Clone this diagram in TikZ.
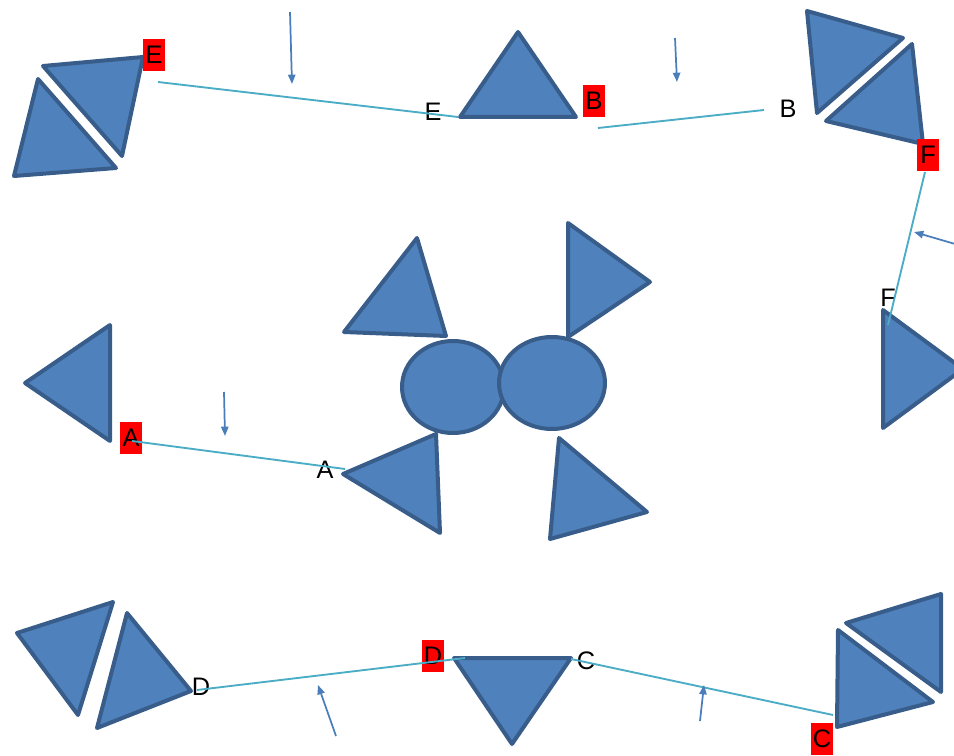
\documentclass[tikz,border=0pt]{standalone}
\usepackage{fontspec}
\setmainfont{Liberation Sans}
\usetikzlibrary{arrows.meta}
\definecolor{triFill}{HTML}{4F81BD}
\definecolor{triLine}{HTML}{385D8A}
\definecolor{linkCol}{HTML}{4BACC6}
\definecolor{arrCol}{HTML}{4A7EBB}

\begin{document}
\begin{tikzpicture}[x=0.75pt, y=-0.75pt,
	tri/.style={fill=triFill, draw=triLine, line width=3pt, line join=round},
	link/.style={draw=linkCol, line width=1.4pt},
	push/.style={draw=arrCol, line width=1.3pt, -{Triangle[length=7pt,width=5.5pt]}},
	lbl/.style={inner sep=0pt, font=\fontsize{19}{19}\selectfont},
	redlbl/.style={lbl, fill=red, minimum width=16.5pt, minimum height=24.5pt}]
	\useasboundingbox (0,0) rectangle (954,756);
	\clip (0,0) rectangle (954,756);
	% Triangles
	\draw[tri] (43,66) -- (143,57) -- (122,156) -- cycle;
	\draw[tri] (38,79) -- (116,168) -- (14,176) -- cycle;
	\draw[tri] (518,32) -- (460,117) -- (576,117) -- cycle;
	\draw[tri] (807,11) -- (903,38) -- (817,113) -- cycle;
	\draw[tri] (912,44) -- (923,144) -- (826,121) -- cycle;
	\draw[tri] (883,310) -- (963,369) -- (883,428) -- cycle;
	\draw[tri] (25,383) -- (110,325) -- (110,441) -- cycle;
	\draw[tri] (417,238) -- (446,336) -- (344,332) -- cycle;
	\draw[tri] (568,223) -- (650,282) -- (568,337) -- cycle;
	\draw[tri] (343,474) -- (436,434) -- (440,533) -- cycle;
	\draw[tri] (559,438) -- (647,512) -- (550,539) -- cycle;
	\draw[tri] (17,633) -- (113,602) -- (78,715) -- cycle;
	\draw[tri] (127,613) -- (191,691) -- (97,728) -- cycle;
	\draw[tri] (454,658) -- (571,658) -- (512,744) -- cycle;
	\draw[tri] (838,630) -- (933,702) -- (837,727) -- cycle;
	\draw[tri] (846,623) -- (941,594) -- (941,692) -- cycle;
	% Circles
	\draw[tri] (453,387) ellipse [x radius=51, y radius=46];
	\draw[tri] (552,383) ellipse [x radius=53, y radius=46];
	% Labels
	\node[redlbl] (rE) at (154,55) {E};
	\node[redlbl] (rB) at (594,101) {B};
	\node[redlbl] (rF) at (928,155) {F};
	\node[redlbl] (rA) at (131,438) {A};
	\node[redlbl] (rD) at (433,656) {D};
	\node[redlbl] (rC) at (822,739) {C};
	\node[lbl] (bE) at (433,112) {E};
	\node[lbl] (bB) at (788,109) {B};
	\node[lbl] (bF) at (888,298) {F};
	\node[lbl] (bA) at (325,470) {A};
	\node[lbl] (bD) at (201,687) {D};
	\node[lbl] (bC) at (586,661) {C};
	% Connector ends
	\coordinate (eS) at (158,82);  \coordinate (eT) at (458,117);
	\coordinate (bS) at (598,128); \coordinate (bT) at (764,110);
	\coordinate (fS) at (925,172); \coordinate (fT) at (888,325);
	\coordinate (aS) at (132,441); \coordinate (aT) at (345,469);
	\coordinate (dS) at (197,690); \coordinate (dT) at (465,658);
	\coordinate (cS) at (571,659); \coordinate (cT) at (833,715);
	\draw[link] (eS) -- (eT);
	\draw[link] (bS) -- (bT);
	\draw[link] (fS) -- (fT);
	\draw[link] (aS) -- (aT);
	\draw[link] (dS) -- (dT);
	\draw[link] (cS) -- (cT);
	% Small arrows
	\coordinate (p1) at (290,12);  \coordinate (q1) at (292,84);
	\coordinate (p2) at (675,38);  \coordinate (q2) at (677,82);
	\coordinate (p3) at (962,246); \coordinate (q3) at (914,232);
	\coordinate (p4) at (224,392); \coordinate (q4) at (225,436);
	\coordinate (p5) at (336,736); \coordinate (q5) at (318,685);
	\coordinate (p6) at (700,721); \coordinate (q6) at (704,685);
	\foreach \i in {1,...,6} {
		\draw[push] (p\i) -- (q\i);
	}
\end{tikzpicture}
\end{document}
